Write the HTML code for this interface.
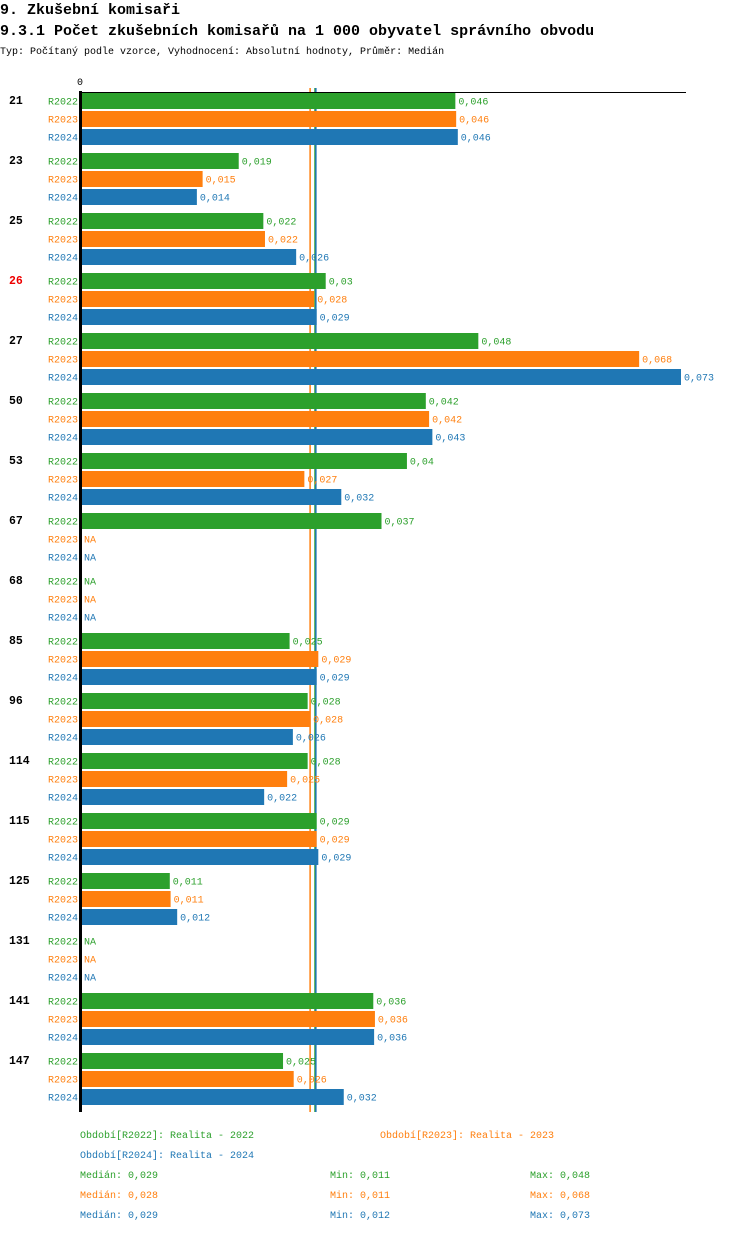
<!DOCTYPE html>
<html><head><meta charset="utf-8"><style>
body{margin:0;background:#fff;width:750px;height:1232px;overflow:hidden}
svg text{font-family:"Liberation Mono","DejaVu Sans Mono",monospace}
</style></head><body>
<svg id="chart" width="750" height="1232" xmlns="http://www.w3.org/2000/svg">
<text x="0" y="14" font-size="15" font-weight="bold">9. Zkušební komisaři</text>
<text x="0" y="35" font-size="15" font-weight="bold">9.3.1 Počet zkušebních komisařů na 1 000 obyvatel správního obvodu</text>
<text x="0" y="54" font-size="10">Typ: Počítaný podle vzorce, Vyhodnocení: Absolutní hodnoty, Průměr: Medián</text>
<text x="77" y="85" font-size="10">0</text>
<g id="medians"></g>
<g id="marks"></g>
<line x1="80" y1="92.5" x2="686" y2="92.5" stroke="#000" stroke-width="1"/>
<line x1="80.5" y1="91" x2="80.5" y2="1112" stroke="#000" stroke-width="3"/>
<g id="legend"></g>
</svg>
<script>
const categories=["21","23","25","26","27","50","53","67","68","85","96","114","115","125","131","141","147"];
const highlighted=["26"];
const seriesNames=["R2022","R2023","R2024"];
const seriesColors=["#2ca02c","#ff7f0e","#1f77b4"];
const r2022=[0.0455,0.0191,0.0221,0.0297,0.0483,0.0419,0.0396,0.0365,null,0.0253,0.0275,0.0275,0.0286,0.0107,null,0.0355,0.0245];
const r2023=[0.0456,0.0147,0.0223,0.0283,0.0679,0.0423,0.0271,null,null,0.0288,0.0278,0.0250,0.0286,0.0108,null,0.0357,0.0258];
const r2024=[0.0458,0.0140,0.0261,0.0286,0.073,0.0427,0.0316,null,null,0.0286,0.0257,0.0222,0.0288,0.0116,null,0.0356,0.0319];
const medians=[0.0284,0.0278,0.0285];
const medianLabels=["0,029","0,028","0,029"];
const minLabels=["0,011","0,011","0,012"];
const maxLabels=["0,048","0,068","0,073"];
const periodLabels=["Období[R2022]: Realita - 2022","Období[R2023]: Realita - 2023","Období[R2024]: Realita - 2024"];
const series=[r2022,r2023,r2024];
const NS="http://www.w3.org/2000/svg";
const x0=82, xMax=0.073, xEnd=681;
function xs(v){return x0+v/xMax*(xEnd-x0);}
function gy(i){return 92+i*60;}
function fmt(v){let s=(Math.round(v*1000)/1000).toString();return s.replace('.',',');}
function mk(tag,attrs,parent){const e=document.createElementNS(NS,tag);for(const k in attrs)e.setAttribute(k,attrs[k]);parent.appendChild(e);return e;}
const g=document.getElementById('marks');
categories.forEach((c,i)=>{
  const t=mk('text',{x:9,y:gy(i)+12,'font-size':11.5,'font-weight':'bold',fill:highlighted.includes(c)?'#e00':'#000'},g);
  t.textContent=c;
  
  
  series.forEach((s,j)=>{
    const y=gy(i)+1+j*18;
    const lab=mk('text',{x:78,y:y+11.5,'font-size':10,'text-anchor':'end',fill:seriesColors[j]},g);
    lab.textContent=seriesNames[j];
    
    
    const v=s[i];
    if(v==null){
      const na=mk('text',{x:84,y:y+11.5,'font-size':10,fill:seriesColors[j]},g);
      na.textContent='NA';
      
      
      return;
    }
    const r=mk('rect',{x:x0,y:y,width:xs(v)-x0,height:16,fill:seriesColors[j]},g);
    
    
    const vt=mk('text',{x:xs(v)+3,y:y+11.5,'font-size':10,fill:seriesColors[j]},g);
    vt.textContent=fmt(v);
    
    
  });
});
const mg=document.getElementById('medians');
medians.forEach((m,j)=>{
  const l=mk('line',{x1:xs(m),x2:xs(m),y1:88,y2:1112,stroke:seriesColors[j],'stroke-width':1.5},mg);
  
  
});
const lg=document.getElementById('legend');
const pos=[[80,1138],[380,1138],[80,1158]];
periodLabels.forEach((p,j)=>{
  const t=mk('text',{x:pos[j][0],y:pos[j][1],'font-size':10,fill:seriesColors[j]},lg);
  t.textContent=p;
  
  
});
seriesNames.forEach((n,j)=>{
  const y=1178+j*20;
  [[80,'Medián: '+medianLabels[j]],[330,'Min: '+minLabels[j]],[530,'Max: '+maxLabels[j]]].forEach(([x,s])=>{
    const t=mk('text',{x:x,y:y,'font-size':10,fill:seriesColors[j]},lg);
    t.textContent=s;
    
    
  });
});
</script>
</body></html>
